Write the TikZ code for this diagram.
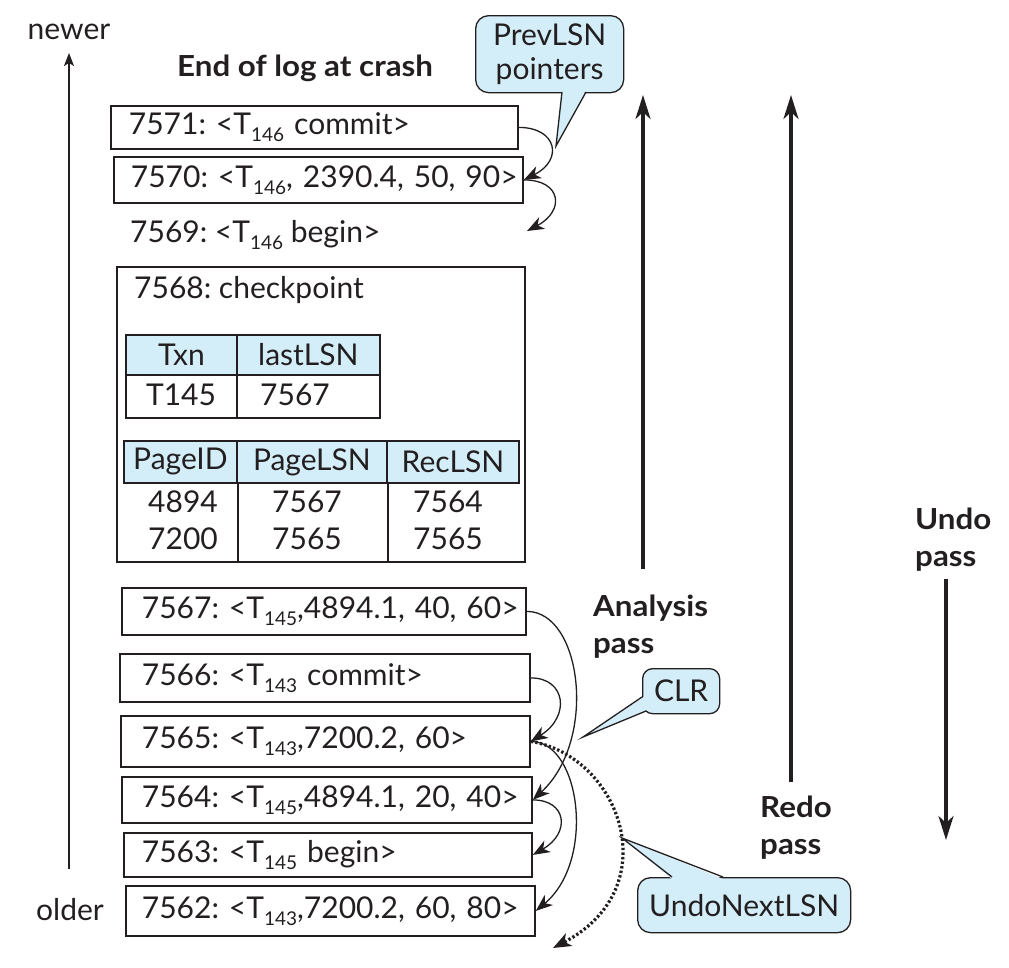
\documentclass[tikz,border=0pt]{standalone}
\usepackage{fontspec}
\setmainfont{Lato}
\newfontfamily\boldwide{Lato}[FakeStretch=1.08,UprightFont=* Bold]
\usetikzlibrary{arrows.meta}
\definecolor{ink}{HTML}{231F20}
\definecolor{callfill}{HTML}{D4EEF9}
\newcommand\lsub[1]{\raisebox{-7pt}{\fontsize{19}{19}\selectfont #1}}
\frenchspacing
\begin{document}
\begin{tikzpicture}[x=1pt,y=-1pt,
  every node/.style={text=ink},
  txt/.style={font=\fontsize{30}{36}\selectfont, inner sep=0pt},
  logbox/.style={draw=ink, line width=1.8pt, anchor=north west, inner ysep=0pt, align=left, font=\fontsize{30}{36}\selectfont},
  hdr/.style={draw=ink, line width=1.8pt, fill=callfill, anchor=north west, inner sep=0pt, font=\fontsize{30}{36}\selectfont},
  cell/.style={draw=ink, line width=1.8pt, anchor=north west, inner sep=0pt},
  passlbl/.style={font=\fontsize{29}{37}\selectfont\boldwide, anchor=north west, inner sep=0pt, align=left},
  callout/.style={draw=ink, line width=1.3pt, fill=callfill, rounded corners=13pt, anchor=north west, inner sep=0pt, align=center, font=\fontsize{30}{34}\selectfont},
  ptrfill/.style={fill=callfill},
  ptr/.style={draw=ink, line width=1.3pt},
  link/.style={draw=ink, line width=1.3pt, -{Stealth[length=17pt,width=13pt,inset=5pt]}},
  dotlink/.style={draw=ink, line width=3.2pt, dash pattern=on 2.4pt off 2.2pt, -{Stealth[length=18pt,width=14pt,inset=5pt]}},
  pass/.style={draw=ink, line width=3.4pt, -{Stealth[length=24pt,width=15pt,inset=7pt]}},
  timeline/.style={draw=ink, line width=1.5pt, -{Stealth[length=13pt,width=10pt,inset=3pt]}},
]
\useasboundingbox (0,0) rectangle (1009,967);

% time axis
\node[txt] (newer) at (69,32) {newer};
\node[txt] (older) at (70,910) {older};
\coordinate (axbot) at (69,869);
\coordinate (axtop) at (69,53);
\draw[timeline] (axbot) -- (axtop);

% title
\node[txt, font=\fontsize{29}{34}\selectfont\boldwide, anchor=west] (title) at (177,68) {End of log at crash};

% log records
\node[logbox, inner xsep=18pt, text width=371pt, minimum height=43pt] (r7571) at (110,105) {\mbox{7571: <T\lsub{146} commit>}};
\node[logbox, inner xsep=17pt, text width=375pt, minimum height=46pt] (r7570) at (113,156) {\mbox{7570: <T\lsub{146}, 2390.4, 50, 90>}};
\node[txt, anchor=west] (r7569) at (130,235) {7569: <T\lsub{146} begin>};

% checkpoint
\node[cell, minimum width=408pt, minimum height=295pt] (ckpt) at (116,266) {};
\node[txt, anchor=west] (ckptlbl) at (134,290) {7568: checkpoint};

\node[hdr, minimum width=111pt, minimum height=40pt] (t1a) at (125,334) {Txn};
\node[hdr, minimum width=143pt, minimum height=40pt] (t1b) at (236,334) {lastLSN};
\node[cell, minimum width=111pt, minimum height=43pt] (t1c) at (125,374) {};
\node[cell, minimum width=143pt, minimum height=43pt] (t1d) at (236,374) {};
\node[txt] (t1ctext) at (181,395) {T145};
\node[txt, anchor=west] (t1dtext) at (260,395) {7567};

\node[hdr, minimum width=113pt, minimum height=42pt] (t2a) at (123,440) {PageID};
\node[hdr, minimum width=150pt, minimum height=42pt] (t2b) at (236,440) {PageLSN};
\node[hdr, minimum width=132pt, minimum height=42pt] (t2c) at (386,440) {RecLSN};
\draw[draw=ink, line width=1.8pt] (t2a.south east) -- (t2a.south east |- ckpt.south);
\draw[draw=ink, line width=1.8pt] (t2b.south east) -- (t2b.south east |- ckpt.south);
\node[txt] (d11) at (183,502) {4894};
\node[txt] (d12) at (307,502) {7567};
\node[txt] (d13) at (448,502) {7564};
\node[txt] (d21) at (183,539) {7200};
\node[txt] (d22) at (307,539) {7565};
\node[txt] (d23) at (448,539) {7565};

\node[logbox, inner xsep=20pt, text width=364pt, minimum height=47pt] (r7567) at (121,587) {\mbox{7567: <T\lsub{145},4894.1, 40, 60>}};
\node[logbox, inner xsep=22pt, text width=366pt, minimum height=48pt] (r7566) at (119,653) {\mbox{7566: <T\lsub{143} commit>}};
\node[logbox, inner xsep=21pt, text width=367pt, minimum height=51pt] (r7565) at (120,715) {\mbox{7565: <T\lsub{143},7200.2, 60>}};
\node[logbox, inner xsep=20pt, text width=370pt, minimum height=46pt] (r7564) at (121,776) {\mbox{7564: <T\lsub{145},4894.1, 20, 40>}};
\node[logbox, inner xsep=18pt, text width=372pt, minimum height=44pt] (r7563) at (123,832) {\mbox{7563: <T\lsub{145} begin>}};
\node[logbox, inner xsep=16pt, text width=377pt, minimum height=50pt] (r7562) at (125,885) {\mbox{7562: <T\lsub{143},7200.2, 60, 80>}};

% prevLSN links
\coordinate (end7569) at (527,231);
\coordinate (endundo) at (553,948);
\draw[link] (r7571.east) .. controls +(38,0) and +(40,-20) .. (r7570.east);
\draw[link] (r7570.east) .. controls +(38,0) and +(38,-20) .. (end7569);
\draw[link] (r7567.east) .. controls +(55,0) and +(65,-60) .. (r7564.east);
\draw[link] (r7566.east) .. controls +(35,0) and +(40,-25) .. (r7565.east);
\draw[link] (r7565.east) .. controls +(50,0) and +(60,-50) .. (r7562.east);
\draw[link] (r7564.east) .. controls +(34,0) and +(38,-22) .. (r7563.east);
\draw[dotlink] (r7565.east) .. controls +(90,15) and +(115,-60) .. (endundo);

% passes
\coordinate (anabot) at (643,569);
\coordinate (anatop) at (643,95);
\coordinate (redobot) at (791,782);
\coordinate (redotop) at (791,95);
\coordinate (undotop) at (946,579);
\coordinate (undobot) at (946,840);
\draw[pass] (anabot) -- (anatop);
\draw[pass] (redobot) -- (redotop);
\draw[pass] (undotop) -- (undobot);
\node[passlbl] (analbl) at (593,595) {Analysis\\pass};
\node[passlbl] (redolbl) at (760,796) {Redo\\pass};
\node[passlbl] (undolbl) at (915,508) {Undo\\pass};

% callouts
\node[callout, minimum width=148pt, minimum height=77pt] (prevc) at (475,15) {PrevLSN\\pointers};
\fill[ptrfill] (562,90) -- (556,146) -- (586,90) -- cycle;
\draw[ptr] (562,92) -- (556,146) -- (586,92);

\node[callout, rounded corners=10pt, minimum width=77pt, minimum height=45pt] (clrc) at (642,668) {CLR};
\fill[ptrfill] (645,696) -- (583,737) -- (647,710) -- cycle;
\draw[ptr] (642,697) -- (583,737) -- (646,711);

\node[callout, minimum width=213pt, minimum height=55pt] (undoc) at (637,877) {UndoNextLSN};
\fill[ptrfill] (672,879) -- (622,838) -- (723,879) -- cycle;
\draw[ptr] (672,877) -- (622,838) -- (723,877);
\end{tikzpicture}
\end{document}
